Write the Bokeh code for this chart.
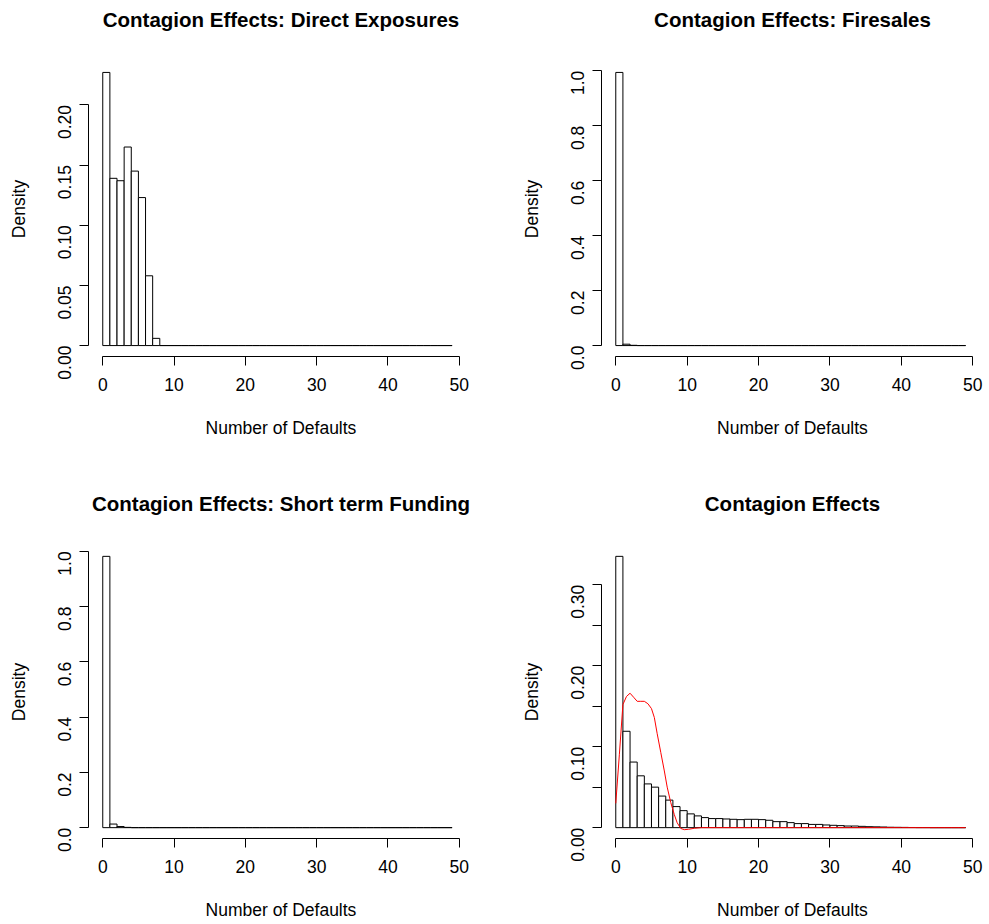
import math
from bokeh.plotting import figure
from bokeh.layouts import gridplot
from bokeh.models import Range1d, FixedTicker, ColumnDataSource, NumeralTickFormatter, Title
from bokeh.embed import file_html
from bokeh.resources import INLINE

# histogram breaks (bins of width 1 from 0 to 49)
breaks = [0, 1, 2, 3, 4, 5, 6, 7, 8, 9, 10, 11, 12, 13, 14, 15, 16, 17, 18, 19,
          20, 21, 22, 23, 24, 25, 26, 27, 28, 29, 30, 31, 32, 33, 34, 35, 36, 37, 38, 39,
          40, 41, 42, 43, 44, 45, 46, 47, 48, 49]

direct_exposures = [0.227, 0.139, 0.137, 0.165, 0.145, 0.123, 0.058, 0.006, 0, 0,
                    0, 0, 0, 0, 0, 0, 0, 0, 0, 0,
                    0, 0, 0, 0, 0, 0, 0, 0, 0, 0,
                    0, 0, 0, 0, 0, 0, 0, 0, 0, 0,
                    0, 0, 0, 0, 0, 0, 0, 0, 0]

firesales = [0.994, 0.005, 0.001, 0, 0, 0, 0, 0, 0, 0,
             0, 0, 0, 0, 0, 0, 0, 0, 0, 0,
             0, 0, 0, 0, 0, 0, 0, 0, 0, 0,
             0, 0, 0, 0, 0, 0, 0, 0, 0, 0,
             0, 0, 0, 0, 0, 0, 0, 0, 0]

short_term_funding = [0.982, 0.013, 0.004, 0.001, 0, 0, 0, 0, 0, 0,
                      0, 0, 0, 0, 0, 0, 0, 0, 0, 0,
                      0, 0, 0, 0, 0, 0, 0, 0, 0, 0,
                      0, 0, 0, 0, 0, 0, 0, 0, 0, 0,
                      0, 0, 0, 0, 0, 0, 0, 0, 0]

all_effects = [0.335, 0.119, 0.081, 0.064, 0.054, 0.050, 0.039, 0.034, 0.026, 0.021,
               0.017, 0.0145, 0.0124, 0.0112, 0.0112, 0.0107, 0.0103, 0.0099, 0.0103, 0.0103,
               0.0099, 0.0091, 0.0074, 0.0074, 0.0062, 0.0050, 0.0050, 0.0040, 0.0040, 0.0033,
               0.0029, 0.0025, 0.0020, 0.0020, 0.0016, 0.0012, 0.0010, 0.0008, 0.0005, 0.0004,
               0.0003, 0.0002, 0.0001, 0.0001, 0, 0, 0, 0, 0]

# red density curve (direct exposures) on the last panel
kde_x = [0, 0.5, 1.0, 1.5, 2.0, 2.5, 3.0, 3.5, 4.0, 4.5, 5.0, 5.4, 5.8, 6.3, 6.8, 7.2,
         7.7, 8.2, 8.6, 9.1, 9.6, 10.2, 11.0, 12.0, 15.0, 20.0, 25.0, 30.0, 35.0, 40.0, 45.0, 49.0]
kde_y = [0.030, 0.090, 0.152, 0.162, 0.166, 0.161, 0.156, 0.156, 0.156, 0.153, 0.147, 0.136,
         0.116, 0.093, 0.070, 0.050, 0.031, 0.016, 0.006, -0.001, -0.0025, -0.002, -0.0008, 0.0,
         0.0, 0.0, 0.0, 0.0, 0.0, 0.0, 0.0, 0.0]

titles = ["Contagion Effects: Direct Exposures", "Contagion Effects: Firesales",
          "Contagion Effects: Short term Funding", "Contagion Effects"]
x_ticks = [0, 10, 20, 30, 40, 50]
y_ticks_direct = [0.0, 0.05, 0.10, 0.15, 0.20]
y_ticks_unit = [0.0, 0.2, 0.4, 0.6, 0.8, 1.0]
y_ticks_all = [0.0, 0.1, 0.2, 0.3]
y_minor_all = [0.05, 0.15, 0.25]

FONT = "Liberation Sans"
TXT = "17.5px"


def panel(title, dens, yticks, yminor, fmt, width, height, bl, bt, br, bb, xmax):
    ymax = max(dens)
    p = figure(width=width, height=height, output_backend="svg", toolbar_location=None,
               x_range=Range1d(-2, xmax), y_range=Range1d(-0.04 * ymax, 1.04 * ymax),
               min_border_left=bl, min_border_top=bt, min_border_right=br, min_border_bottom=bb,
               title=title)
    p.outline_line_color = None
    p.grid.visible = False
    p.background_fill_color = "white"
    p.border_fill_color = "white"
    p.title.align = "center"
    p.title.text_font = FONT
    p.title.text_font_size = "20.5px"
    p.title.text_font_style = "bold"
    p.title.text_color = "black"
    # empty spacer between the frame and the title
    p.add_layout(Title(text=" ", text_font_size="14px", standoff=8), "above")

    src = ColumnDataSource(dict(left=breaks[:-1], right=breaks[1:], top=dens,
                                bottom=[0] * len(dens)))
    p.quad(left="left", right="right", top="top", bottom="bottom", source=src,
           fill_color="white", line_color="black", line_width=1)

    xa = p.xaxis[0]
    xa.ticker = FixedTicker(ticks=x_ticks)
    xa.bounds = (0, 50)
    xa.axis_label = "Number of Defaults"
    ya = p.yaxis[0]
    ya.ticker = FixedTicker(ticks=yticks, minor_ticks=yminor)
    ya.bounds = (0, yticks[-1])
    ya.formatter = NumeralTickFormatter(format=fmt)
    ya.axis_label = "Density"
    ya.major_label_orientation = math.pi / 2
    for ax in (xa, ya):
        ax.axis_line_color = "black"
        ax.axis_line_width = 1
        ax.major_tick_line_color = "black"
        ax.major_tick_out = 9
        ax.major_tick_in = 0
        ax.minor_tick_line_color = "black"
        ax.minor_tick_out = 9
        ax.minor_tick_in = 0
        ax.major_label_text_font = FONT
        ax.major_label_text_font_size = TXT
        ax.major_label_text_color = "black"
        ax.axis_label_text_font = FONT
        ax.axis_label_text_font_size = TXT
        ax.axis_label_text_font_style = "normal"
        ax.axis_label_text_color = "black"
    xa.major_label_standoff = 12
    xa.axis_label_standoff = 24
    ya.major_label_standoff = 15
    ya.axis_label_standoff = 20
    return p


W1, W2 = 508, 478
H1, H2 = 478, 444
p1 = panel(titles[0], direct_exposures, y_ticks_direct, [], "0.00", W1, H1, 88, 61, 35, 122, 52)
p2 = panel(titles[1], firesales, y_ticks_unit, [], "0.0", W2, H1, 93, 61, 3, 122, 51.5)
p3 = panel(titles[2], short_term_funding, y_ticks_unit, [], "0.0", W1, H2, 88, 67, 35, 82, 52)
p4 = panel(titles[3], all_effects, y_ticks_all, y_minor_all, "0.00", W2, H2, 93, 67, 3, 82, 51.5)
p4.line(kde_x, kde_y, line_color="#ff0000", line_width=1.0)

grid = gridplot([[p1, p2], [p3, p4]], toolbar_location=None)
open("out.html", "w").write(file_html(grid, INLINE))
